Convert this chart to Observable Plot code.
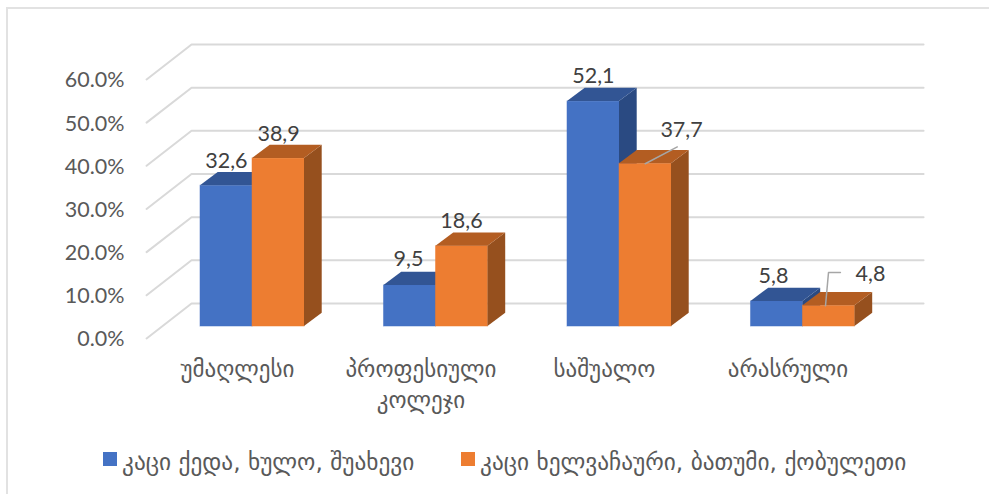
<!DOCTYPE html>
<html><head><meta charset="utf-8">
<script src="https://cdn.jsdelivr.net/npm/d3@7"></script>
<script src="https://cdn.jsdelivr.net/npm/@observablehq/plot@0.6"></script>
<style>
html,body{margin:0;padding:0;background:#fff;}
#wrap{position:relative;width:989px;height:494px;overflow:hidden;}
#frame{position:absolute;left:6px;top:7px;right:0;bottom:0;border-left:2px solid #e2e2e2;border-top:2px solid #e2e2e2;}
#chart{position:absolute;left:0;top:0;}
#legend{position:absolute;left:0;top:440px;width:989px;height:54px;font:23.3px 'DejaVu Sans',sans-serif;color:#595959;}
#legend .sw{position:absolute;top:12px;width:14px;height:14px;}
#legend .tx{position:absolute;top:8px;white-space:nowrap;line-height:28px;}
svg{display:block;}
</style></head><body><div id="wrap"><div id="frame"></div><div id="chart"></div><div id="legend"></div></div>
<script>
const categories = ["უმაღლესი", "პროფესიული\nკოლეჯი", "საშუალო", "არასრული"];
const seriesNames = ["კაცი ქედა, ხულო, შუახევი", "კაცი ხელვაჩაური, ბათუმი, ქობულეთი"];
const seriesA = [32.6, 9.5, 52.1, 5.8];
const seriesB = [38.9, 18.6, 37.7, 4.8];
const labelsA = ["32,6", "9,5", "52,1", "5,8"];
const labelsB = ["38,9", "18,6", "37,7", "4,8"];
const ticks = [0, 10, 20, 30, 40, 50, 60];

const colors = {front: ["#4472c4", "#ed7d31"], top: ["#325594", "#b35d22"], side: ["#2a4a82", "#96501e"]};
const grid = "#d9d9d9";
const barW = 0.2834, depthX = 0.0965, depthY = 3.08;
const floor = -5.33;
const wallX = [-0.3322, 3.657], wallDX = 0.245, wallDY = 8.1;

const font = "Lato, 'DejaVu Sans', sans-serif";
const geo = "'DejaVu Sans', sans-serif";

const bars = [];
categories.forEach((c, i) => {
  bars.push({i, s: 0, v: seriesA[i], x0: i - barW});
  bars.push({i, s: 1, v: seriesB[i], x0: i});
});
const top_ = b => floor + b.v;
const sideFace = b => Plot.areaY(
  [{x: b.x0 + barW, lo: floor, hi: top_(b)}, {x: b.x0 + barW + depthX, lo: floor + depthY, hi: top_(b) + depthY}],
  {x: "x", y1: "lo", y2: "hi", fill: colors.side[b.s]});
const topFace = b => Plot.areaY(
  [{x: b.x0, lo: top_(b), hi: top_(b)},
   {x: b.x0 + depthX, lo: top_(b), hi: top_(b) + depthY},
   {x: b.x0 + barW, lo: top_(b), hi: top_(b) + depthY},
   {x: b.x0 + barW + depthX, lo: top_(b) + depthY, hi: top_(b) + depthY}],
  {x: "x", y1: "lo", y2: "hi", fill: colors.top[b.s]});
const frontFace = b => Plot.rect([b],
  {x1: d => d.x0, x2: d => d.x0 + barW, y1: floor, y2: top_(b), fill: colors.front[b.s], stroke: colors.front[b.s], strokeOpacity: 0.5, strokeWidth: 1});

const wallLines = ticks.map(t => Plot.line(
  [{x: wallX[0] - wallDX, y: t - wallDY}, {x: wallX[0], y: t}, {x: wallX[1], y: t}],
  {x: "x", y: "y", stroke: grid, strokeWidth: 2}));

const leaders = [
  [{x: 2.14, y: top_({v: 37.7})}, {x: 2.315, y: top_({v: 37.7}) + 3.9}],
  [{x: 3.1226, y: top_({v: 4.8})}, {x: 3.139, y: top_({v: 4.8}) + 7.7}, {x: 3.204, y: top_({v: 4.8}) + 7.7}]
].map(l => Plot.line(l, {x: "x", y: "y", stroke: "#a6a6a6", strokeWidth: 1.5}));

const labelX = [-0.142, 0.142, 0.85, 1.139, 1.858, 2.338, 2.839, 3.368];
const labelY = [31.4, 37.7, 8.65, 17.4, 51.15, 38.67, 4.75, 5.2];
const labelT = [labelsA[0], labelsB[0], labelsA[1], labelsB[1], labelsA[2], labelsB[2], labelsA[3], labelsB[3]];

const plot = Plot.plot({
  width: 989, height: 440,
  marginLeft: 0, marginRight: 0, marginTop: 0, marginBottom: 0,
  x: {domain: [0, 3], range: [252, 802.5], axis: null},
  y: {domain: [0, 60], range: [303, 44], axis: null},
  style: {background: "transparent", overflow: "visible"},
  marks: [
    ...wallLines,
    ...bars.flatMap(b => [frontFace(b), sideFace(b), topFace(b)]),
    ...leaders,
    Plot.text(labelT, {x: (d, i) => labelX[i], y: (d, i) => labelY[i], text: d => d, fill: "#404040", fontSize: 21.5, fontFamily: font, textAnchor: "middle", lineAnchor: "bottom"}),
    Plot.text(ticks, {x: wallX[0] - wallDX - 0.12, y: d => d - wallDY - 0.25, text: d => d.toFixed(1) + "%", fill: "#595959", fontSize: 21.5, fontFamily: font, textAnchor: "end"}),
    Plot.text(categories, {x: (d, i) => i - 0.082, y: -12.1, text: d => d, fill: "#595959", fontSize: 23, fontFamily: geo, lineAnchor: "top", lineHeight: 1.33})
  ]
});
document.getElementById("chart").appendChild(plot);

const legend = document.getElementById("legend");
[[103, 122], [461, 480]].forEach(([sx, tx], i) => {
  const s = document.createElement("div");
  s.className = "sw"; s.style.left = sx + "px"; s.style.background = colors.front[i];
  const t = document.createElement("div");
  t.className = "tx"; t.style.left = tx + "px"; t.textContent = seriesNames[i];
  legend.append(s, t);
});
</script></body></html>
